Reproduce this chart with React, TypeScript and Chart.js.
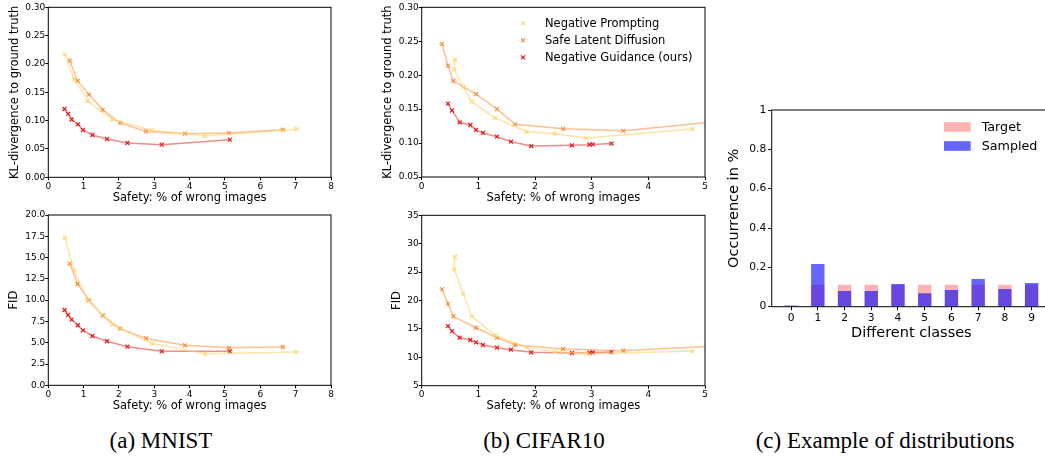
import React, { useEffect, useRef } from "react";
import { Chart, registerables } from "chart.js";
Chart.register(...registerables);

const FONT = "'DejaVu Sans', sans-serif";

// ---------- MNIST data ----------
const mnistNpSafety = [0.47, 0.73, 1.11, 1.81, 2.93, 4.44, 7.03];
const mnistNpKL = [0.217, 0.173, 0.135, 0.102, 0.083, 0.073, 0.085];
const mnistNpFID = [17.3, 13.5, 10.0, 7.1, 4.9, 3.7, 3.9];

const mnistSldSafety = [0.605, 0.83, 1.15, 1.54, 2.03, 2.77, 3.87, 5.11, 6.64];
const mnistSldKL = [0.206, 0.17, 0.146, 0.119, 0.096, 0.081, 0.077, 0.078, 0.084];
const mnistSldFID = [14.3, 11.9, 10.0, 8.2, 6.65, 5.5, 4.7, 4.4, 4.5];

const mnistNgSafety = [0.46, 0.56, 0.66, 0.84, 0.98, 1.25, 1.66, 2.24, 3.21, 5.14];
const mnistNgKL = [0.1205, 0.112, 0.102, 0.0935, 0.0835, 0.0746, 0.0676, 0.0605, 0.0576, 0.0664];
const mnistNgFID = [8.84, 8.26, 7.71, 7.05, 6.46, 5.79, 5.17, 4.54, 3.99, 3.99];

// ---------- CIFAR10 data ----------
const cifarNpSafety = [0.587, 0.575, 0.734, 0.882, 1.293, 1.853, 2.35, 2.91, 4.78];
const cifarNpKL = [0.2234, 0.208, 0.1826, 0.161, 0.137, 0.1167, 0.1138, 0.1074, 0.1207];
const cifarNpFID = [27.7, 25.5, 21.2, 17.2, 13.9, 11.7, 11.0, 10.6, 11.1];

const cifarSldSafety = [0.358, 0.464, 0.558, 0.958, 1.329, 1.652, 2.5, 3.56, 5.5];
const cifarSldKL = [0.246, 0.214, 0.1914, 0.172, 0.15, 0.1276, 0.121, 0.118, 0.134];
const cifarSldFID = [22.0, 19.4, 17.2, 15.2, 13.45, 12.17, 11.46, 11.16, 12.15];

const cifarNgSafety = [0.464, 0.535, 0.67, 0.858, 0.958, 1.082, 1.329, 1.576, 1.934, 2.65, 2.96, 3.02, 3.35];
const cifarNgKL = [0.158, 0.148, 0.1306, 0.1266, 0.1193, 0.1149, 0.1094, 0.102, 0.0956, 0.0967, 0.0976, 0.098, 0.0993];
const cifarNgFID = [15.5, 14.6, 13.45, 13.05, 12.64, 12.17, 11.7, 11.34, 10.88, 10.76, 10.8, 10.85, 10.93];

// ---------- Distribution data ----------
const classes = [0, 1, 2, 3, 4, 5, 6, 7, 8, 9];
const targetDist = [0, 0.111, 0.111, 0.111, 0.111, 0.111, 0.111, 0.111, 0.111, 0.111];
const sampledDist = [0.006, 0.217, 0.08, 0.08, 0.115, 0.069, 0.085, 0.141, 0.09, 0.12];

const methodNames = ["Negative Prompting", "Safe Latent Diffusion", "Negative Guidance (ours)"];
const captions = ["(a) MNIST", "(b) CIFAR10", "(c) Example of distributions"];

const NP = { marker: "#fed976", line: "rgba(254,210,110,0.6)" };
const SLD = { marker: "#fd8d3c", line: "rgba(253,141,60,0.55)" };
const NG = { marker: "#e31a1c", line: "rgba(227,26,28,0.5)" };

type Box = { left: number; top: number; width: number; height: number };
type Plot = { l: number; t: number; r: number; b: number };

const framePlugin = {
  id: "frame",
  afterDraw(chart: any) {
    const { ctx, chartArea: a } = chart;
    ctx.save();
    ctx.strokeStyle = "#000";
    ctx.lineWidth = 1;
    ctx.strokeRect(a.left, a.top, a.right - a.left, a.bottom - a.top);
    ctx.restore();
  },
};

const tickGrid = {
  display: true,
  drawOnChartArea: false,
  drawTicks: true,
  tickLength: 3,
  tickColor: "#000",
  tickWidth: 1,
  offset: false,
};

type Series = { label: string; xs: number[]; ys: number[]; c: { marker: string; line: string } };

function drawX(ctx: CanvasRenderingContext2D, x: number, y: number, color: string) {
  ctx.save();
  ctx.strokeStyle = color;
  ctx.lineWidth = 1.2;
  ctx.beginPath();
  ctx.moveTo(x - 2, y - 2);
  ctx.lineTo(x + 2, y + 2);
  ctx.moveTo(x - 2, y + 2);
  ctx.lineTo(x + 2, y - 2);
  ctx.stroke();
  ctx.restore();
}

function lineConfig(p: {
  box: Box;
  plot: Plot;
  series: Series[];
  xMax: number;
  yMin: number;
  yMax: number;
  yStep: number;
  yDigits: number;
  yTitle: string;
  legend?: boolean;
}) {
  const { box, plot } = p;
  const plugins: any[] = [framePlugin];
  if (p.legend) {
    plugins.push({
      id: "lineLegend",
      afterDraw(chart: any) {
        const ctx = chart.ctx as CanvasRenderingContext2D;
        ctx.save();
        ctx.font = `11.5px ${FONT}`;
        ctx.fillStyle = "#000";
        ctx.textBaseline = "middle";
        p.series.forEach((s, i) => {
          const y = 23.3 + i * 17 - box.top;
          drawX(ctx, 523 - box.left, y, s.c.marker);
          ctx.fillText(s.label, 545 - box.left, y + 0.5);
        });
        ctx.restore();
      },
    });
  }
  return {
    type: "scatter",
    data: {
      datasets: p.series.map((s) => ({
        label: s.label,
        data: s.xs.map((x, i) => ({ x, y: s.ys[i] })),
        showLine: true,
        borderColor: s.c.line,
        borderWidth: 1.5,
        pointStyle: "crossRot",
        pointRadius: 2.8,
        pointHoverRadius: 2.8,
        pointBorderColor: s.c.marker,
        pointBackgroundColor: s.c.marker,
        pointBorderWidth: 1.2,
      })),
    },
    options: {
      responsive: false,
      animation: false,
      devicePixelRatio: 1,
      events: [],
      layout: {
        padding: { left: 0, top: plot.t - box.top, right: box.left + box.width - plot.r, bottom: 0 },
      },
      plugins: { legend: { display: false }, tooltip: { enabled: false } },
      scales: {
        x: {
          type: "linear",
          min: 0,
          max: p.xMax,
          afterFit: (s: any) => {
            s.height = box.top + box.height - plot.b;
          },
          ticks: {
            stepSize: 1,
            autoSkip: false,
            maxRotation: 0,
            color: "#000",
            padding: 1,
            font: { family: FONT, size: 9 },
            callback: (v: any) => String(v),
          },
          grid: tickGrid,
          border: { display: false },
          title: {
            display: true,
            text: "Safety: % of wrong images",
            color: "#000",
            font: { family: FONT, size: 11.5 },
            padding: { top: 0, bottom: 0 },
          },
        },
        y: {
          type: "linear",
          min: p.yMin,
          max: p.yMax,
          afterFit: (s: any) => {
            s.width = plot.l - box.left;
          },
          ticks: {
            stepSize: p.yStep,
            autoSkip: false,
            color: "#000",
            padding: 0,
            font: { family: FONT, size: 9 },
            callback: (v: any) => Number(v).toFixed(p.yDigits),
          },
          grid: tickGrid,
          border: { display: false },
          title: {
            display: true,
            text: p.yTitle,
            color: "#000",
            font: { family: FONT, size: 11.5 },
            padding: { top: 0, bottom: 0 },
          },
        },
      },
    },
    plugins,
  };
}

function barConfig(box: Box, plot: Plot) {
  const targetColor = "rgba(255,0,0,0.3)";
  const sampledColor = "rgba(0,0,255,0.6)";
  return {
    type: "bar",
    data: {
      datasets: [
        {
          label: "Target",
          data: classes.map((c, i) => ({ x: c, y: targetDist[i] })),
          backgroundColor: targetColor,
          grouped: false,
          order: 1,
          barPercentage: 0.5,
          categoryPercentage: 1,
        },
        {
          label: "Sampled",
          data: classes.map((c, i) => ({ x: c, y: sampledDist[i] })),
          backgroundColor: sampledColor,
          grouped: false,
          order: 0,
          barPercentage: 0.5,
          categoryPercentage: 1,
        },
      ],
    },
    options: {
      responsive: false,
      animation: false,
      devicePixelRatio: 1,
      events: [],
      layout: {
        padding: { left: 0, top: plot.t - box.top, right: box.left + box.width - plot.r, bottom: 0 },
      },
      plugins: { legend: { display: false }, tooltip: { enabled: false } },
      scales: {
        x: {
          type: "linear",
          min: -0.725,
          max: 9.725,
          offset: false,
          afterFit: (s: any) => {
            s.height = box.top + box.height - plot.b;
          },
          ticks: {
            stepSize: 1,
            includeBounds: false,
            autoSkip: false,
            maxRotation: 0,
            color: "#000",
            padding: 2,
            font: { family: FONT, size: 10.7 },
            callback: (v: any) => String(v),
          },
          grid: { ...tickGrid, tickLength: 3.5 },
          border: { display: false },
          title: {
            display: true,
            text: "Different classes",
            color: "#000",
            font: { family: FONT, size: 14.5 },
            padding: { top: 0, bottom: 0 },
          },
        },
        y: {
          type: "linear",
          min: 0,
          max: 1,
          afterFit: (s: any) => {
            s.width = plot.l - box.left;
          },
          ticks: {
            stepSize: 0.2,
            autoSkip: false,
            color: "#000",
            padding: 2,
            font: { family: FONT, size: 10.7 },
            callback: (v: any) => {
              const n = Number(v);
              if (Math.abs(n) < 1e-9) return "0";
              if (Math.abs(n - 1) < 1e-9) return "1";
              return n.toFixed(1);
            },
          },
          grid: { ...tickGrid, tickLength: 3.5 },
          border: { display: false },
          title: {
            display: true,
            text: "Occurrence in %",
            color: "#000",
            font: { family: FONT, size: 14.5 },
            padding: { top: 0, bottom: 0 },
          },
        },
      },
    },
    plugins: [
      framePlugin,
      {
        id: "barLegend",
        afterDraw(chart: any) {
          const ctx = chart.ctx as CanvasRenderingContext2D;
          ctx.save();
          ctx.font = `12.7px ${FONT}`;
          ctx.textBaseline = "middle";
          const items = [
            { label: "Target", color: targetColor },
            { label: "Sampled", color: sampledColor },
          ];
          items.forEach((it, i) => {
            const y = 127 + i * 19 - box.top;
            ctx.fillStyle = it.color;
            ctx.fillRect(944 - box.left, y - 4.8, 26.7, 9.6);
            ctx.fillStyle = "#000";
            ctx.fillText(it.label, 981.7 - box.left, y + 0.5);
          });
          ctx.restore();
        },
      },
    ],
  };
}

function ChartCanvas({ box, build }: { box: Box; build: () => any }) {
  const ref = useRef<HTMLCanvasElement>(null);
  useEffect(() => {
    const chart = new Chart(ref.current as HTMLCanvasElement, build());
    return () => chart.destroy();
  }, []);
  return (
    <canvas
      ref={ref}
      width={box.width}
      height={box.height}
      style={{ position: "absolute", left: box.left, top: box.top, width: box.width, height: box.height }}
    />
  );
}

const mnistTopBox: Box = { left: 8, top: 0, width: 337, height: 205 };
const mnistTopPlot: Plot = { l: 48.3, t: 7.3, r: 331, b: 177.3 };
const mnistBotBox: Box = { left: 7, top: 207, width: 338, height: 206 };
const mnistBotPlot: Plot = { l: 48.3, t: 215, r: 331, b: 385.3 };
const cifarTopBox: Box = { left: 381, top: 0, width: 338, height: 205 };
const cifarTopPlot: Plot = { l: 421.7, t: 7.3, r: 705, b: 177 };
const cifarBotBox: Box = { left: 390, top: 207, width: 329, height: 206 };
const cifarBotPlot: Plot = { l: 421.7, t: 215.3, r: 705, b: 385.7 };
const barBox: Box = { left: 726, top: 100, width: 334, height: 242 };
const barPlot: Plot = { l: 771.7, t: 110, r: 1051, b: 306.7 };

export default function App() {
  const mnistKL: Series[] = [
    { label: methodNames[0], xs: mnistNpSafety, ys: mnistNpKL, c: NP },
    { label: methodNames[1], xs: mnistSldSafety, ys: mnistSldKL, c: SLD },
    { label: methodNames[2], xs: mnistNgSafety, ys: mnistNgKL, c: NG },
  ];
  const mnistFID: Series[] = [
    { label: methodNames[0], xs: mnistNpSafety, ys: mnistNpFID, c: NP },
    { label: methodNames[1], xs: mnistSldSafety, ys: mnistSldFID, c: SLD },
    { label: methodNames[2], xs: mnistNgSafety, ys: mnistNgFID, c: NG },
  ];
  const cifarKL: Series[] = [
    { label: methodNames[0], xs: cifarNpSafety, ys: cifarNpKL, c: NP },
    { label: methodNames[1], xs: cifarSldSafety, ys: cifarSldKL, c: SLD },
    { label: methodNames[2], xs: cifarNgSafety, ys: cifarNgKL, c: NG },
  ];
  const cifarFID: Series[] = [
    { label: methodNames[0], xs: cifarNpSafety, ys: cifarNpFID, c: NP },
    { label: methodNames[1], xs: cifarSldSafety, ys: cifarSldFID, c: SLD },
    { label: methodNames[2], xs: cifarNgSafety, ys: cifarNgFID, c: NG },
  ];
  const capStyle = (center: number): React.CSSProperties => ({
    position: "absolute",
    left: center - 200,
    width: 400,
    top: 428,
    height: 26,
    lineHeight: "26px",
    textAlign: "center",
    fontFamily: "'Liberation Serif', 'Times New Roman', serif",
    fontSize: 23,
    color: "#000",
    whiteSpace: "nowrap",
  });
  return (
    <div
      style={{
        position: "fixed",
        left: 0,
        top: 0,
        width: 1045,
        height: 463,
        overflow: "hidden",
        background: "#fff",
      }}
    >
      <ChartCanvas
        box={mnistTopBox}
        build={() =>
          lineConfig({
            box: mnistTopBox, plot: mnistTopPlot, series: mnistKL, xMax: 8,
            yMin: 0, yMax: 0.3, yStep: 0.05, yDigits: 2, yTitle: "KL-divergence to ground truth",
          })
        }
      />
      <ChartCanvas
        box={mnistBotBox}
        build={() =>
          lineConfig({
            box: mnistBotBox, plot: mnistBotPlot, series: mnistFID, xMax: 8,
            yMin: 0, yMax: 20, yStep: 2.5, yDigits: 1, yTitle: "FID",
          })
        }
      />
      <ChartCanvas
        box={cifarTopBox}
        build={() =>
          lineConfig({
            box: cifarTopBox, plot: cifarTopPlot, series: cifarKL, xMax: 5,
            yMin: 0.05, yMax: 0.3, yStep: 0.05, yDigits: 2, yTitle: "KL-divergence to ground truth", legend: true,
          })
        }
      />
      <ChartCanvas
        box={cifarBotBox}
        build={() =>
          lineConfig({
            box: cifarBotBox, plot: cifarBotPlot, series: cifarFID, xMax: 5,
            yMin: 5, yMax: 35, yStep: 5, yDigits: 0, yTitle: "FID",
          })
        }
      />
      <ChartCanvas box={barBox} build={() => barConfig(barBox, barPlot)} />
      <div style={capStyle(161)}>{captions[0]}</div>
      <div style={capStyle(544)}>{captions[1]}</div>
      <div style={capStyle(885)}>{captions[2]}</div>
    </div>
  );
}
